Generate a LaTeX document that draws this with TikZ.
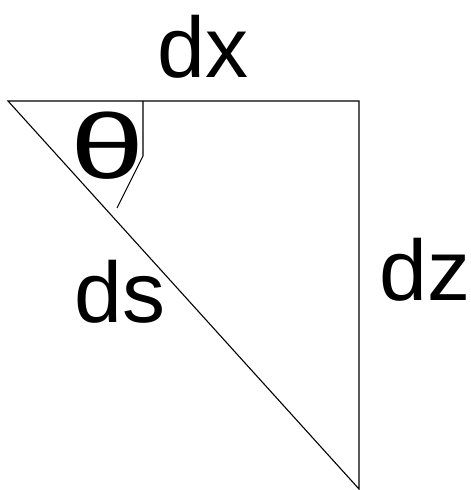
\documentclass[tikz,border=0pt]{standalone}
\usepackage{fontspec}
\setmainfont{Liberation Sans}
\tikzset{
  side/.style={line width=1.1pt},
  lbl/.style={inner sep=0pt, anchor=base, font=\fontsize{86}{86}\selectfont}
}
\newcommand{\angl}[1]{\scalebox{1.45}[1]{#1}}

\begin{document}
\begin{tikzpicture}[x=1pt,y=-1pt]
\useasboundingbox (0,0) rectangle (471,490);
%Corners
	\coordinate (top) at (8,101);
	\coordinate (right) at (359,101);
	\coordinate (bottom) at (359,489);
%The triangle
	\draw[side] (top) -- (right) -- (bottom) -- cycle;
%Angle mark
	\coordinate (marka) at (143,101);
	\coordinate (markb) at (143,156);
	\coordinate (markc) at (117,208);
	\draw[side] (marka) -- (markb) -- (markc);
%Labels
	\node[lbl] (dx) at (203,77) {dx};
	\node[lbl] (dz) at (425,300) {dz};
	\node[lbl] (ds) at (120,322) {ds};
	\node[lbl, anchor=center, font=\fontsize{92}{92}\selectfont] (theta) at (108,146) {\angl{θ}};
\end{tikzpicture}
\end{document}
